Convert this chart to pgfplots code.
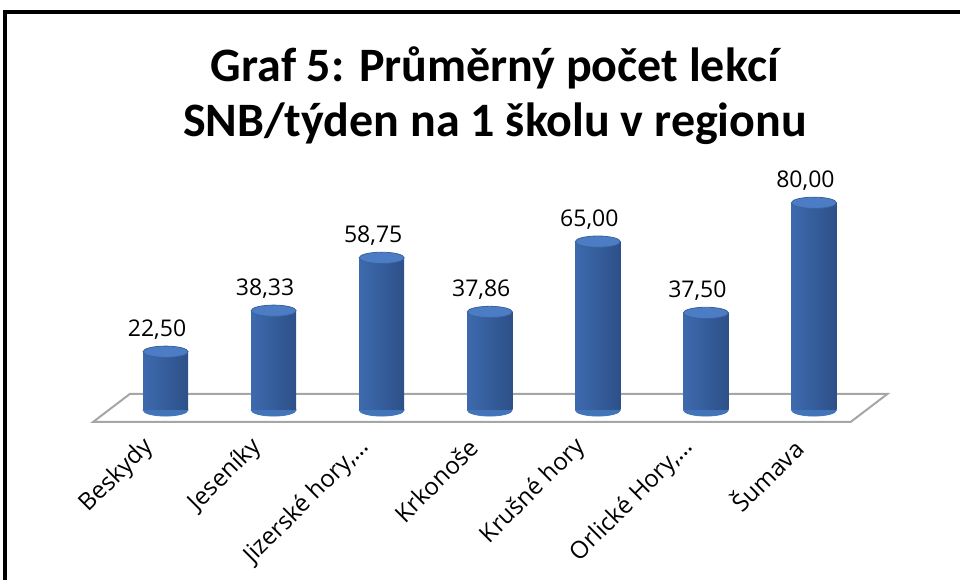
\documentclass[border=0pt]{standalone}
\usepackage{pgfplots}
\pgfplotsset{compat=1.18}
\usepackage{fontspec}
\setmainfont{Open Sans}
\newfontfamily\titlefont{Carlito}
\definecolor{cylL}{HTML}{3D6AAE}
\definecolor{cylM}{HTML}{5C90D8}
\definecolor{cylR}{HTML}{2D5088}
\definecolor{cylBot}{HTML}{4274BA}
\definecolor{cylTop}{HTML}{4C7DC4}
\definecolor{cylTopD}{HTML}{3A629E}
\definecolor{floorgray}{HTML}{A6A6A6}
\pgfplotsset{
  cyl/.style={ybar, bar width=22.5bp, draw=none, left color=cylL, middle color=cylM, right color=cylR},
  base/.style={
    at={(55.75bp,85bp)}, anchor=south west, scale only axis,
    width=378.25bp, height=129.5bp,
    xmin=-0.5, xmax=6.5, ymin=0, ymax=100,
    clip=false,
    axis line style={draw=none}, tick style={draw=none},
    ytick=\empty},
}
\begin{document}
\begin{tikzpicture}
\path[use as bounding box] (0,0) rectangle (480bp,290bp);
\draw[line width=2bp,black] (2.5bp,284bp) rectangle (490bp,-10bp);
\node[font=\titlefont\bfseries\fontsize{24bp}{27.5bp}\selectfont, anchor=base] at (247.5bp,249bp) {Graf 5: Průměrný počet lekcí};
\node[font=\titlefont\bfseries\fontsize{24bp}{27.5bp}\selectfont, anchor=base] at (247.5bp,221.5bp) {SNB/týden na 1 školu v regionu};
% background layer: floor and cylinder bottoms
\begin{axis}[base, xtick=\empty]
\draw[floorgray, line width=1bp, fill=white] (axis cs:-0.67,-4.6) -- (axis cs:6.34,-4.6) -- (axis cs:6.68,6.2) -- (axis cs:-0.33,6.2) -- cycle;
\addplot[only marks, color=cylBot, mark=*, mark size=11.25bp,
  mark options={yscale=0.27, draw=none, fill=cylBot}]
  coordinates {(0,0) (1,0) (2,0) (3,0) (4,0) (5,0) (6,0)};
\end{axis}
% foreground: cylinder bodies, tops, labels
\begin{axis}[base,
  xtick={0,1,2,3,4,5,6},
  xticklabels={Beskydy,Jeseníky,{Jizerské hory,…},Krkonoše,Krušné hory,{Orlické Hory,…},Šumava},
  xticklabel style={xshift=-8bp, yshift=-16.5bp, rotate=45, anchor=east, inner sep=0pt,
    font=\fontsize{12bp}{14bp}\selectfont},
]
\addplot[cyl] coordinates {(0,22.50)};
\addplot[cyl] coordinates {(1,38.33)};
\addplot[cyl] coordinates {(2,58.75)};
\addplot[cyl] coordinates {(3,37.86)};
\addplot[cyl] coordinates {(4,65.00)};
\addplot[cyl] coordinates {(5,37.50)};
\addplot[cyl] coordinates {(6,80.00)};
\addplot[only marks, color=cylTopD, mark=*, mark size=11.25bp,
  mark options={yscale=0.25, draw=cylTopD, line width=0.4bp, fill=cylTop},
  nodes near coords, point meta=explicit symbolic,
  every node near coord/.append style={anchor=base, xshift=-4.25bp, yshift=7.5bp,
    font=\fontsize{11.5bp}{14bp}\selectfont, text=black}]
  coordinates {(0,22.50) [22,50] (1,38.33) [38,33] (2,58.75) [58,75] (3,37.86) [37,86] (4,65.00) [65,00] (5,37.50) [37,50] (6,80.00) [80,00]};
\end{axis}
\end{tikzpicture}
\end{document}
